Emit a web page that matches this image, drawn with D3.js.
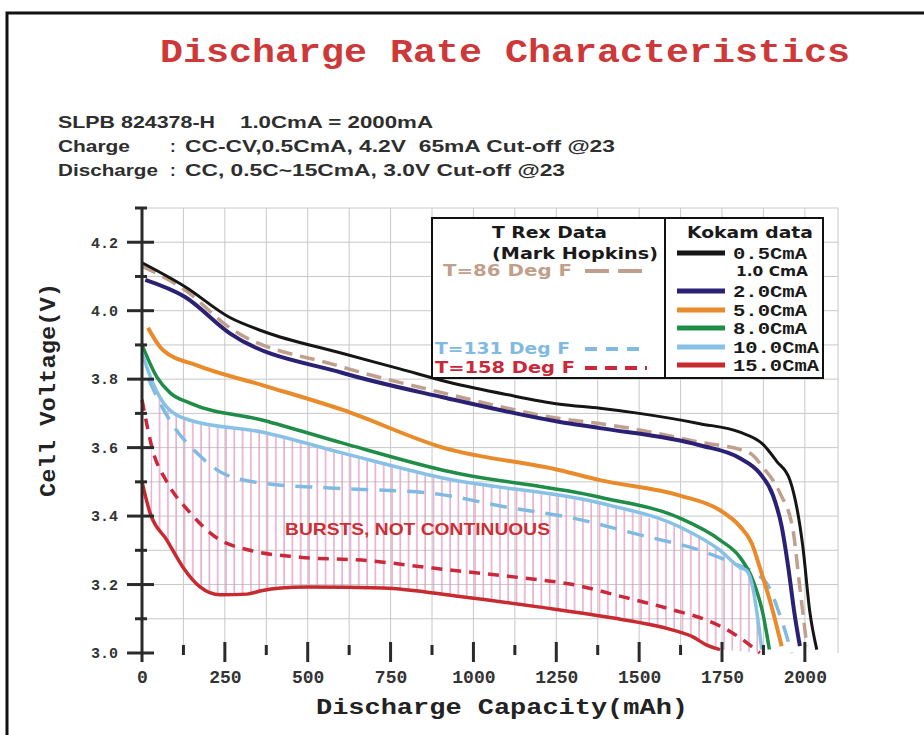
<!DOCTYPE html>
<html lang="en">
<head>
<meta charset="utf-8">
<title>Discharge Rate Characteristics</title>
<script src="https://cdnjs.cloudflare.com/ajax/libs/d3/7.8.5/d3.min.js"></script>
<style>
	body { margin: 0; background: #fff; }
	.mono { font-family: "Liberation Mono", "Courier New", monospace; font-weight: bold; }
	.sans { font-family: "DejaVu Sans", Verdana, sans-serif; font-weight: bold; }
	.head { font-family: "Liberation Sans", Arial, sans-serif; font-weight: bold; fill: #2e2e2e; white-space: pre; }
	.grid line { stroke: #c8c8c8; stroke-width: 1; }
	.curve { fill: none; stroke-linejoin: round; stroke-linecap: butt; }
</style>
</head>
<body>
<div id="chart"></div>
<script>
// capacity (mAh) vs cell voltage (V)
var c05 = [[0,4.14],[130,4.07],[265,3.98],[365,3.94],[606,3.875],[778,3.83],[929,3.79],[1100,3.755],[1261,3.727],[1382,3.715],[1500,3.70],[1683,3.67],[1804,3.645],[1873,3.61],[1915,3.56],[1955,3.505],[1994,3.31],[2015,3.12],[2036,3.01]];
var c20 = [[10,4.09],[130,4.04],[265,3.934],[606,3.818],[908,3.747],[1261,3.675],[1382,3.657],[1683,3.607],[1804,3.569],[1864,3.525],[1904,3.46],[1930,3.37],[1950,3.25],[1968,3.12],[1985,3.02]];
var c50 = [[18,3.95],[63,3.885],[166,3.84],[365,3.782],[606,3.71],[908,3.60],[1261,3.534],[1382,3.505],[1623,3.46],[1744,3.417],[1804,3.37],[1840,3.32],[1864,3.25],[1904,3.12],[1930,3.02]];
var c80 = [[0,3.90],[45,3.806],[85,3.76],[145,3.73],[365,3.68],[606,3.613],[908,3.534],[1382,3.455],[1623,3.394],[1744,3.33],[1804,3.28],[1843,3.213],[1873,3.117],[1893,3.01]];
var c100 = [[0,3.876],[33,3.788],[75,3.718],[145,3.68],[365,3.645],[606,3.584],[908,3.511],[1382,3.438],[1623,3.368],[1744,3.30],[1804,3.25],[1825,3.24],[1843,3.19],[1858,3.10],[1870,3.01]];
var c150 = [[0,3.50],[24,3.41],[75,3.33],[124,3.25],[175,3.193],[235,3.17],[317,3.172],[360,3.182],[420,3.19],[498,3.193],[727,3.19],[959,3.165],[1201,3.134],[1403,3.105],[1602,3.067],[1662,3.047],[1704,3.023],[1744,3.01]];
var t86 = [[0,4.13],[130,4.06],[265,3.95],[588,3.84],[908,3.76],[1261,3.685],[1412,3.666],[1683,3.616],[1834,3.584],[1873,3.543],[1925,3.467],[1964,3.36],[1985,3.19],[2006,3.02]];
var t131 = [[20,3.80],[39,3.76],[90,3.67],[166,3.584],[244,3.525],[365,3.496],[567,3.482],[869,3.467],[1101,3.426],[1300,3.394],[1502,3.345],[1683,3.30],[1774,3.266],[1880,3.21],[1925,3.11],[1960,3.0]];
var t158 = [[0,3.74],[33,3.59],[75,3.50],[145,3.41],[226,3.336],[326,3.30],[477,3.28],[679,3.27],[878,3.248],[1150,3.219],[1300,3.20],[1451,3.164],[1602,3.126],[1704,3.096],[1783,3.058],[1864,3.0]];

var kokamNames = ["0.5CmA", "2.0CmA", "5.0CmA", "8.0CmA", "10.0CmA", "15.0CmA"];
var kokamColors = ["#151515", "#2a2174", "#e98b2b", "#1f8c47", "#88c1e6", "#c72a2f"];
var kokamWidths = [3, 4, 4, 3.5, 3.5, 3.5];
var kokamData = [c05, c20, c50, c80, c100, c150];
var trexNames = ["T=86 Deg F", "T=131 Deg F", "T=158 Deg F"];
var trexColors = ["#c09f8c", "#80bae3", "#c9293a"];
var trexData = [t86, t131, t158];

var xMajor = [0, 250, 500, 750, 1000, 1250, 1500, 1750, 2000];
var xMinor = [125, 375, 625, 875, 1125, 1375, 1625, 1875];
var xGrid = [125, 250, 375, 500, 625, 750, 875, 1000, 1125, 1250, 1375, 1500, 1625, 1750, 1875, 2000, 2100];
var yMajor = [3.0, 3.2, 3.4, 3.6, 3.8, 4.0, 4.2];
var yMinor = [3.1, 3.3, 3.5, 3.7, 3.9, 4.1, 4.3];
var yGrid = [3.1, 3.2, 3.3, 3.4, 3.5, 3.6, 3.7, 3.8, 3.9, 4.0, 4.1, 4.2, 4.3];

var W = 924, H = 735;
var svg = d3.select("#chart").append("svg").attr("width", W).attr("height", H);

var x = d3.scaleLinear().domain([0, 2100]).range([142, 838]);
var y = d3.scaleLinear().domain([3.0, 4.3]).range([653, 208]);

// outer frame
svg.append("rect").attr("x", 7).attr("y", 13).attr("width", 940).attr("height", 760)
	.attr("fill", "none").attr("stroke", "#111").attr("stroke-width", 3);

// title and header
svg.append("text").attr("class", "mono").attr("x", 160).attr("y", 62)
	.attr("font-size", 34).attr("fill", "#cd3838")
	.attr("textLength", 690).attr("lengthAdjust", "spacingAndGlyphs")
	.text("Discharge Rate Characteristics");

var head = [
	[58, 128, "SLPB 824378-H", 157], [240, 128, "1.0CmA = 2000mA", 193],
	[58, 152, "Charge", 72], [170, 152, ":", 0], [185, 152, "CC-CV,0.5CmA, 4.2V  65mA Cut-off @23", 430],
	[58, 176, "Discharge", 100], [170, 176, ":", 0], [185, 176, "CC, 0.5C~15CmA, 3.0V Cut-off @23", 380]
];
head.forEach(function (d) {
	var t = svg.append("text").attr("class", "head").attr("x", d[0]).attr("y", d[1])
		.attr("font-size", 17).text(d[2]);
	if (d[3] > 0) t.attr("textLength", d[3]).attr("lengthAdjust", "spacingAndGlyphs");
});

// grid
var grid = svg.append("g").attr("class", "grid");
grid.selectAll(".v").data(xGrid).enter().append("line")
	.attr("x1", function (d) { return x(d); }).attr("x2", function (d) { return x(d); })
	.attr("y1", y(4.3)).attr("y2", y(3.0));
grid.selectAll(".h").data(yGrid).enter().append("line")
	.attr("x1", x(0)).attr("x2", x(2100))
	.attr("y1", function (d) { return y(d); }).attr("y2", function (d) { return y(d); });

// hatched "bursts" zone between 10C and 15C curves
var defs = svg.append("defs");
var pat = defs.append("pattern").attr("id", "hatch").attr("patternUnits", "userSpaceOnUse")
	.attr("x", 142).attr("y", 0).attr("width", 8.3).attr("height", 20);
pat.append("line").attr("x1", 1).attr("x2", 1).attr("y1", 0).attr("y2", 20)
	.attr("stroke", "#df92c0").attr("stroke-width", 1.2);

var zone = c100.filter(function (d) { return d[0] >= 33; })
	.concat([[1875, 3.0]])
	.concat(c150.filter(function (d) { return d[0] >= 24; }).slice().reverse());
svg.append("path").datum(zone)
	.attr("d", d3.line().x(function (d) { return x(d[0]); }).y(function (d) { return y(d[1]); }))
	.attr("fill", "url(#hatch)").attr("stroke", "none");

svg.append("text").attr("x", 285).attr("y", 535)
	.attr("font-family", "'Liberation Sans', Arial, sans-serif").attr("font-weight", "bold")
	.attr("font-size", 17).attr("fill", "#c93136")
	.attr("textLength", 265).attr("lengthAdjust", "spacingAndGlyphs")
	.text("BURSTS, NOT CONTINUOUS");

// curves
var line = d3.line().curve(d3.curveMonotoneX)
	.x(function (d) { return x(d[0]); }).y(function (d) { return y(d[1]); });

var dashes = ["15,8", "17,11", "11,8"];
svg.selectAll(".trex").data(trexData).enter().append("path")
	.attr("class", "curve trex")
	.attr("d", line)
	.attr("stroke", function (d, i) { return trexColors[i]; })
	.attr("stroke-width", 3.5)
	.attr("stroke-dasharray", function (d, i) { return dashes[i]; });

svg.selectAll(".kokam").data(kokamData).enter().append("path")
	.attr("class", "curve kokam")
	.attr("d", line)
	.attr("stroke", function (d, i) { return kokamColors[i]; })
	.attr("stroke-width", function (d, i) { return kokamWidths[i]; });

// axes: labels from d3 axes, tick marks drawn crossing the axis line
var ticks = svg.append("g").attr("stroke", "#2a2a2a").attr("stroke-width", 3);

var yAxis = d3.axisLeft(y).tickValues(yMajor).tickFormat(d3.format(".1f"))
	.tickSize(0).tickPadding(24).tickSizeOuter(0);
var gy = svg.append("g").attr("class", "mono").attr("transform", "translate(" + x(0) + ",0)").call(yAxis);
gy.select(".domain").remove();
gy.selectAll(".tick text").attr("font-size", 15).attr("fill", "#333");

ticks.append("line").attr("x1", x(0)).attr("x2", x(0))
	.attr("y1", y(4.3) - 1).attr("y2", y(3.0) + 9);
ticks.selectAll("line.ymaj").data(yMajor).enter().append("line").attr("class", "ymaj")
	.attr("x1", x(0) - 15).attr("x2", x(0) + 12)
	.attr("y1", function (d) { return y(d); }).attr("y2", function (d) { return y(d); });
ticks.selectAll("line.ymin").data(yMinor).enter().append("line").attr("class", "ymin")
	.attr("x1", x(0) - 7).attr("x2", x(0) + 5)
	.attr("y1", function (d) { return y(d); }).attr("y2", function (d) { return y(d); });

var xAxis = d3.axisBottom(x).tickValues(xMajor).tickFormat(d3.format("d")).tickSize(0).tickSizeOuter(0);
var gx = svg.append("g").attr("class", "mono").attr("transform", "translate(0," + y(3.0) + ")").call(xAxis);
gx.select(".domain").remove();
gx.selectAll(".tick text").attr("y", 30).attr("dy", 0).attr("font-size", 18).attr("fill", "#333");

ticks.selectAll("line.xmaj").data(xMajor.slice(1)).enter().append("line").attr("class", "xmaj")
	.attr("x1", function (d) { return x(d); }).attr("x2", function (d) { return x(d); })
	.attr("y1", y(3.0) - 11).attr("y2", y(3.0) + 9);
ticks.selectAll("line.xmin").data(xMinor).enter().append("line").attr("class", "xmin")
	.attr("x1", function (d) { return x(d); }).attr("x2", function (d) { return x(d); })
	.attr("y1", y(3.0) - 8).attr("y2", y(3.0) + 2);

// axis titles
svg.append("text").attr("class", "mono").attr("x", 316).attr("y", 714)
	.attr("font-size", 22).attr("fill", "#222")
	.attr("textLength", 372).attr("lengthAdjust", "spacingAndGlyphs")
	.text("Discharge Capacity(mAh)");
svg.append("text").attr("class", "mono")
	.attr("transform", "translate(55,497) rotate(-90)")
	.attr("font-size", 22).attr("fill", "#222")
	.attr("textLength", 214).attr("lengthAdjust", "spacingAndGlyphs")
	.text("Cell Voltage(V)");

// legend
var lg = svg.append("g");
lg.append("rect").attr("x", 432).attr("y", 218).attr("width", 391).attr("height", 160)
	.attr("fill", "#fff").attr("stroke", "#111").attr("stroke-width", 2);
lg.append("line").attr("x1", 665).attr("x2", 665).attr("y1", 218).attr("y2", 378)
	.attr("stroke", "#111").attr("stroke-width", 2);

function ltext(xp, yp, s, len, col, cls, size) {
	return lg.append("text").attr("class", cls).attr("x", xp).attr("y", yp)
		.attr("font-size", size).attr("fill", col)
		.attr("textLength", len).attr("lengthAdjust", "spacingAndGlyphs").text(s);
}
ltext(492, 238, "T Rex Data", 115, "#1a1a1a", "sans", 15);
ltext(492, 259, "(Mark Hopkins)", 166, "#1a1a1a", "sans", 15);
ltext(687, 238, "Kokam data", 126, "#1a1a1a", "sans", 15);

var trexY = [271, 349, 368];
var trexX = [443, 435, 435];
var trexLen = [129, 135, 140];
var legDash = ["24,9", "12,9", "12,8"];
trexNames.forEach(function (n, i) {
	ltext(trexX[i], trexY[i] + 5, n, trexLen[i], trexColors[i], "sans", 15);
	lg.append("line").attr("x1", 585).attr("x2", 647).attr("y1", trexY[i]).attr("y2", trexY[i])
		.attr("stroke", trexColors[i]).attr("stroke-width", 4).attr("stroke-dasharray", legDash[i]);
});

var kokY = [253, 291, 310, 328, 347, 365];
var kokLen = [74, 74, 74, 74, 86, 86];
kokamNames.forEach(function (n, i) {
	lg.append("line").attr("x1", 677).attr("x2", 725).attr("y1", kokY[i]).attr("y2", kokY[i])
		.attr("stroke", kokamColors[i]).attr("stroke-width", 5);
	ltext(733, kokY[i] + 6, n, kokLen[i], "#1a1a1a", "mono", 16);
});
ltext(736, 276, "1.0 CmA", 72, "#1a1a1a", "sans", 14);
</script>
</body>
</html>
